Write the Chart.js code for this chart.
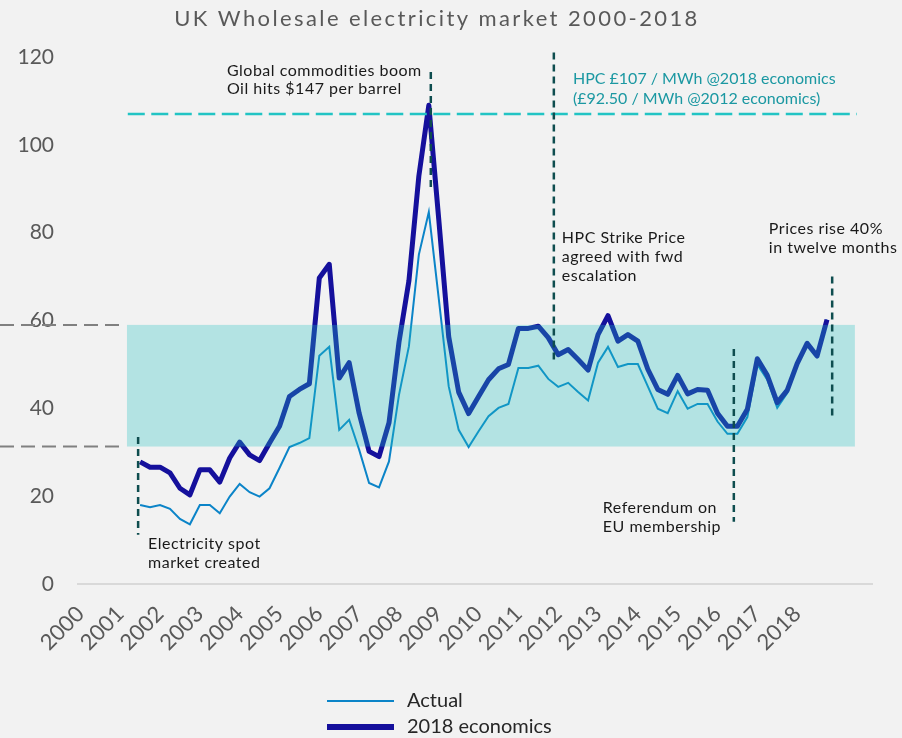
<!DOCTYPE html>
<html>
<head>
<meta charset="utf-8">
<title>UK Wholesale electricity market 2000-2018</title>
<script src="https://cdn.jsdelivr.net/npm/chart.js@4.4.1/dist/chart.umd.min.js"></script>
<style>
  html, body { margin: 0; padding: 0; background: #f2f2f2; }
  #wrap { width: 902px; height: 738px; }
</style>
</head>
<body>
<div id="wrap"><canvas id="priceChart" width="902" height="738"></canvas></div>
<script>
// Quarterly wholesale price (£/MWh), first value is 2001 Q3
const firstYear = 2001;
const firstQuarter = 3;

const actualPrices = [
  18.0, 17.5, 18.0, 17.1, 14.8, 13.6, 18.0, 18.0, 16.1, 19.9,
  22.8, 20.9, 19.9, 21.8, 26.4, 31.2, 32.1, 33.2, 52.0, 54.0,
  35.1, 37.4, 30.6, 23.0, 22.0, 27.9, 43.0, 54.1, 75.0, 84.7,
  65.0, 45.0, 35.1, 31.2, 34.8, 38.2, 40.1, 41.0, 49.2, 49.2,
  49.7, 46.7, 44.9, 45.8, 43.7, 41.8, 50.4, 54.0, 49.4, 50.1,
  50.1, 45.0, 39.9, 38.9, 43.9, 39.9, 41.0, 41.0, 37.0, 34.2,
  34.2, 38.0, 50.0, 46.5, 40.1, 43.5, 50.0, 54.8, 51.9, 60.2
];

const economics2018 = [
  27.8, 26.6, 26.6, 25.3, 21.8, 20.3, 26.0, 26.0, 23.2, 28.7,
  32.3, 29.4, 28.1, 32.1, 35.9, 42.7, 44.3, 45.6, 69.7, 72.8,
  46.9, 50.4, 38.9, 30.2, 29.0, 36.7, 55.0, 69.0, 92.9, 109.0,
  83.0, 56.3, 43.7, 38.8, 42.7, 46.5, 49.0, 50.0, 58.2, 58.2,
  58.7, 56.1, 52.2, 53.4, 51.1, 48.7, 56.8, 61.1, 55.3, 56.8,
  55.3, 48.9, 44.3, 43.2, 47.5, 43.3, 44.3, 44.1, 38.9, 35.9,
  35.9, 39.8, 51.3, 47.5, 41.3, 44.1, 50.2, 54.8, 51.9, 60.2
];

const yearTicks = [2000, 2001, 2002, 2003, 2004, 2005, 2006, 2007, 2008, 2009,
  2010, 2011, 2012, 2013, 2014, 2015, 2016, 2017, 2018];
const priceTicks = [0, 20, 40, 60, 80, 100, 120];

// HPC strike price and the typical trading range
const hpcStrike = 107;
const rangeLow = 31.3;
const rangeHigh = 59.0;

// turn a quarter index into a fractional year on the x axis
function quarterToYear(i) {
  return firstYear + (firstQuarter - 1 + i) / 4;
}

function toPoints(values) {
  return values.map((v, i) => ({ x: quarterToYear(i), y: v }));
}

const fontFamily = 'Lato, "Open Sans", sans-serif';

// --- annotations: events, band, strike price ---
const events = [
  { x: 2001.45, from: 33.5, to: 11.2 },
  { x: 2008.80, from: 116.6, to: 89.7 },
  { x: 2011.89, from: 121.0, to: 51.0 },
  { x: 2016.41, from: 53.5, to: 14.2 },
  { x: 2018.88, from: 70.0, to: 38.1 }
];

const notes = [
  { x: 2003.68, y: 116.8, lh: 18, sp: 0.5, color: '#1a1a1a', lines: ['Global commodities boom', 'Oil hits $147 per barrel'] },
  { x: 2012.37, y: 115.0, lh: 20, sp: 0, color: '#1b98a2', lines: ['HPC £107 / MWh @2018 economics', '(£92.50 / MWh @2012 economics)'] },
  { x: 2012.09, y: 78.8, lh: 19, sp: 0.5, color: '#1a1a1a', lines: ['HPC Strike Price', 'agreed with fwd', 'escalation'] },
  { x: 2017.29, y: 80.8, lh: 19, sp: 0.5, color: '#1a1a1a', lines: ['Prices rise 40%', 'in twelve months'] },
  { x: 2013.12, y: 17.3, lh: 19, sp: 0.5, color: '#1a1a1a', lines: ['Referendum on', 'EU membership'] },
  { x: 2001.70, y: 9.1, lh: 19, sp: 0.5, color: '#1a1a1a', lines: ['Electricity spot', 'market created'] }
];

const marketNotes = {
  id: 'marketNotes',
  afterDatasetsDraw(chart) {
    const { ctx, scales: { x, y } } = chart;
    ctx.save();

    // shaded range sits over the lines, tinting them
    const bandLeft = x.getPixelForValue(2001.17);
    const bandRight = x.getPixelForValue(2019.45);
    const bandTop = y.getPixelForValue(rangeHigh);
    const bandBottom = y.getPixelForValue(rangeLow);
    ctx.fillStyle = 'rgba(32, 192, 192, 0.3)';
    ctx.fillRect(bandLeft, bandTop, bandRight - bandLeft, bandBottom - bandTop);

    // grey dashes leading in to the band edges
    ctx.strokeStyle = '#808080';
    ctx.lineWidth = 2;
    ctx.setLineDash([14, 7]);
    [bandTop, bandBottom].forEach(py => {
      ctx.beginPath();
      ctx.moveTo(0, py);
      ctx.lineTo(bandLeft - 4, py);
      ctx.stroke();
    });

    // HPC strike price
    const hpcY = y.getPixelForValue(hpcStrike);
    ctx.strokeStyle = '#22c4c4';
    ctx.lineWidth = 2.5;
    ctx.setLineDash([17, 6.5]);
    ctx.beginPath();
    ctx.moveTo(x.getPixelForValue(2001.19), hpcY);
    ctx.lineTo(x.getPixelForValue(2019.5), hpcY);
    ctx.stroke();

    // event markers
    ctx.strokeStyle = '#0e4d4f';
    ctx.lineWidth = 2.5;
    ctx.setLineDash([7, 5]);
    events.forEach(e => {
      const px = x.getPixelForValue(e.x);
      ctx.beginPath();
      ctx.moveTo(px, y.getPixelForValue(e.from));
      ctx.lineTo(px, y.getPixelForValue(e.to));
      ctx.stroke();
    });
    ctx.setLineDash([]);

    // event captions
    ctx.font = '16px ' + fontFamily;
    ctx.textAlign = 'left';
    ctx.textBaseline = 'middle';
    notes.forEach(n => {
      ctx.fillStyle = n.color;
      ctx.letterSpacing = n.sp + 'px';
      const px = x.getPixelForValue(n.x);
      const py = y.getPixelForValue(n.y);
      n.lines.forEach((t, i) => ctx.fillText(t, px, py + i * n.lh));
    });
    ctx.letterSpacing = '0px';
    ctx.restore();
  },
  afterDraw(chart) {
    const { ctx } = chart;
    ctx.save();

    // title
    ctx.font = '22px ' + fontFamily;
    ctx.fillStyle = '#595959';
    ctx.textAlign = 'center';
    ctx.textBaseline = 'middle';
    ctx.letterSpacing = '2.4px';
    ctx.fillText('UK Wholesale electricity market 2000-2018', 437, 19);
    ctx.letterSpacing = '0px';

    // legend, stacked under the axis
    ctx.font = '20px ' + fontFamily;
    ctx.textAlign = 'left';
    chart.data.datasets.forEach((ds, i) => {
      const ly = 701 + i * 26;
      ctx.strokeStyle = ds.borderColor;
      ctx.lineWidth = ds.borderWidth > 3 ? 6 : 2;
      ctx.beginPath();
      ctx.moveTo(327, ly);
      ctx.lineTo(394, ly);
      ctx.stroke();
      ctx.fillStyle = '#262626';
      ctx.fillText(ds.label, 407, ly);
    });
    ctx.restore();
  }
};

const ctx = document.getElementById('priceChart').getContext('2d');
new Chart(ctx, {
  type: 'line',
  data: {
    datasets: [
      {
        label: 'Actual',
        data: toPoints(actualPrices),
        borderColor: '#0b84c8',
        borderWidth: 2,
        pointRadius: 0,
        tension: 0,
        order: 1
      },
      {
        label: '2018 economics',
        data: toPoints(economics2018),
        borderColor: '#15109c',
        borderWidth: 5,
        borderJoinStyle: 'round',
        pointRadius: 0,
        tension: 0,
        order: 0
      }
    ]
  },
  options: {
    responsive: false,
    animation: false,
    devicePixelRatio: 1,
    layout: { padding: { top: 57, right: 30, bottom: 62, left: 0 } },
    scales: {
      x: {
        type: 'linear',
        min: 1999.94,
        max: 2019.88,
        afterBuildTicks: s => { s.ticks = yearTicks.map(v => ({ value: v })); },
        afterFit: s => { s.height = 92; },
        grid: { display: false, drawTicks: false },
        border: { color: '#d9d9d9', width: 2 },
        ticks: {
          autoSkip: false,
          minRotation: 45,
          maxRotation: 45,
          padding: 17,
          color: '#595959',
          font: { family: fontFamily, size: 22 },
          callback: v => String(v)
        }
      },
      y: {
        min: 0,
        max: 120,
        afterBuildTicks: s => { s.ticks = priceTicks.map(v => ({ value: v })); },
        afterFit: s => { s.width = 78; },
        grid: { display: false, drawTicks: false },
        border: { display: false },
        ticks: {
          padding: 24,
          color: '#595959',
          font: { family: fontFamily, size: 21 }
        }
      }
    },
    plugins: {
      legend: { display: false },
      tooltip: { enabled: false },
      title: { display: false }
    }
  },
  plugins: [marketNotes]
});
</script>
</body>
</html>
